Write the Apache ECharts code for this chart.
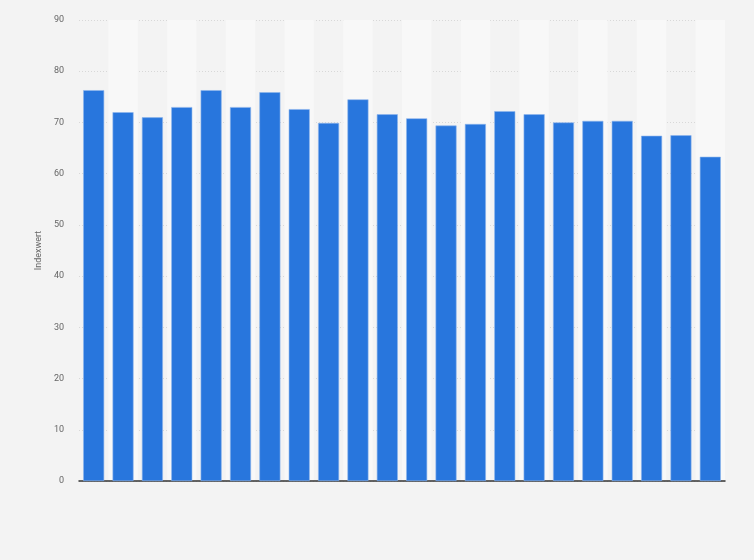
<!DOCTYPE html>
<html><head><meta charset="utf-8">
<script src="https://cdn.jsdelivr.net/npm/echarts@6/dist/echarts.min.js"></script>
<style>html,body{margin:0;padding:0;background:#f3f3f3;}#c{width:754px;height:560px;}</style>
</head><body><div id="c"></div>
<script>
var categories = ['1','2','3','4','5','6','7','8','9','10','11','12','13','14','15','16','17','18','19','20','21','22'];
var values = [76.3, 72.0, 71.0, 73.0, 76.3, 73.0, 75.9, 72.6, 69.9, 74.5, 71.6, 70.8, 69.4, 69.7, 72.2, 71.6, 70.0, 70.3, 70.3, 67.4, 67.5, 63.3];
var yTicks = [0, 10, 20, 30, 40, 50, 60, 70, 80, 90];
var yTitle = 'Indexwert';

var chart = echarts.init(document.getElementById('c'));
chart.setOption({
  backgroundColor: '#f3f3f3',
  animation: false,
  grid: {left: 79, right: 29, top: 20, bottom: 79},
  xAxis: {
    type: 'category', data: categories,
    axisLine: {show: true, lineStyle: {color: '#333', width: 1.5}},
    axisTick: {show: false},
    axisLabel: {show: false},
    splitArea: {show: true, areaStyle: {color: ['rgba(0,0,0,0)', '#f8f8f8']}}
  },
  yAxis: {
    type: 'value', min: yTicks[0], max: yTicks[yTicks.length - 1], interval: 10,
    name: yTitle, nameLocation: 'middle', nameGap: 34, nameRotate: 90,
    nameTextStyle: {color: '#666', fontSize: 9, fontFamily: 'Roboto'},
    axisLine: {show: false}, axisTick: {show: false},
    axisLabel: {color: '#666', fontSize: 9, fontFamily: 'Roboto', margin: 15},
    splitLine: {lineStyle: {color: '#d8d8d8', type: [1, 2], width: 1}}
  },
  series: [{
    type: 'bar', data: values, barWidth: 21,
    itemStyle: {color: '#2876dd', borderColor: '#8db5ec', borderWidth: 0.6}
  }]
});
</script></body></html>
